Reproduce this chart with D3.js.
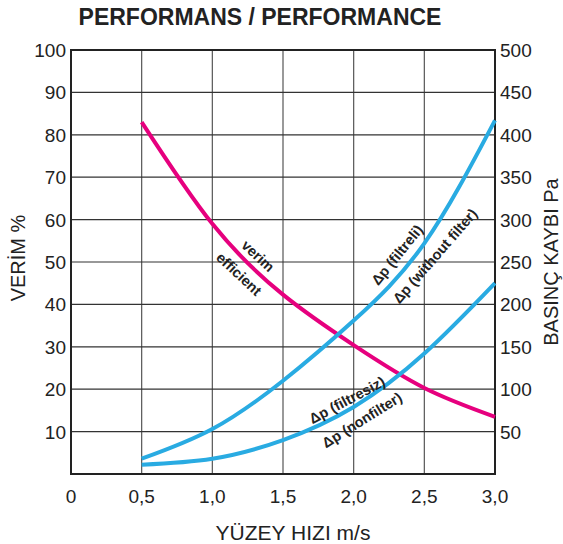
<!DOCTYPE html>
<html>
<head>
<meta charset="utf-8">
<script src="https://cdn.jsdelivr.net/npm/d3@7"></script>
<style>
  body { margin: 0; background: #fff; }
  svg { font-family: "Liberation Sans", Arial, sans-serif; }
</style>
</head>
<body>
<svg id="chart" width="563" height="544"></svg>
<script>
// data
const speeds = [0.5, 1.0, 1.5, 2.0, 2.5, 3.0];
const efficiency = [83, 59, 42.3, 30.4, 20.3, 13.5];          // %
const dpWithFilter = [18, 53, 110, 181, 272, 417];           // Pa
const dpNoFilter = [11, 18, 40, 79, 142, 225];               // Pa

const xTicks = [0, 0.5, 1.0, 1.5, 2.0, 2.5, 3.0];
const leftTicks = [10, 20, 30, 40, 50, 60, 70, 80, 90, 100];
const rightTicks = [50, 100, 150, 200, 250, 300, 350, 400, 450, 500];

const svg = d3.select('#chart');
const plotLeft = 71, plotRight = 495, plotTop = 50, plotBottom = 474;

let x = d3.scaleLinear().domain([0, 3]).range([plotLeft, plotRight]);
let yL = d3.scaleLinear().domain([0, 100]).range([plotBottom, plotTop]);
let yR = d3.scaleLinear().domain([0, 500]).range([plotBottom, plotTop]);

// grid
svg.append('g')
  .selectAll('line')
  .data(xTicks.slice(1, -1))
  .join('line')
  .attr('x1', d => x(d)).attr('x2', d => x(d))
  .attr('y1', plotTop).attr('y2', plotBottom)
  .style('stroke', '#555').style('stroke-width', 1.2);

svg.append('g')
  .selectAll('line')
  .data(leftTicks.slice(0, -1))
  .join('line')
  .attr('x1', plotLeft).attr('x2', plotRight)
  .attr('y1', d => yL(d)).attr('y2', d => yL(d))
  .style('stroke', '#333').style('stroke-width', 1.2);

// frame
svg.append('rect')
  .attr('x', plotLeft).attr('y', plotTop)
  .attr('width', plotRight - plotLeft).attr('height', plotBottom - plotTop)
  .style('fill', 'none').style('stroke', '#222').style('stroke-width', 2);

// tick labels
svg.append('g')
  .selectAll('text')
  .data(leftTicks)
  .join('text')
  .attr('x', plotLeft - 5).attr('y', d => yL(d) + 7)
  .attr('text-anchor', 'end')
  .style('font-size', '19px').style('fill', '#222')
  .text(d => d);

svg.append('g')
  .selectAll('text')
  .data(rightTicks)
  .join('text')
  .attr('x', plotRight + 5).attr('y', d => yR(d) + 7)
  .style('font-size', '19px').style('fill', '#222')
  .text(d => d);

svg.append('g')
  .selectAll('text')
  .data(xTicks)
  .join('text')
  .attr('x', d => x(d)).attr('y', 503)
  .attr('text-anchor', 'middle')
  .style('font-size', '19px').style('fill', '#222')
  .text(d => d === 0 ? '0' : d.toFixed(1).replace('.', ','));

// titles
svg.append('text')
  .attr('x', 260).attr('y', 25)
  .attr('text-anchor', 'middle')
  .style('font-size', '23px').style('font-weight', 'bold').style('fill', '#222')
  .text('PERFORMANS / PERFORMANCE');

svg.append('text')
  .attr('x', 293).attr('y', 540)
  .attr('text-anchor', 'middle')
  .style('font-size', '21px').style('fill', '#222')
  .text('YÜZEY HIZI m/s');

svg.append('text')
  .attr('transform', 'translate(25, 258) rotate(-90)')
  .attr('text-anchor', 'middle')
  .style('font-size', '20px').style('fill', '#222')
  .text('VERİM %');

svg.append('text')
  .attr('transform', 'translate(558, 262) rotate(-90)')
  .attr('text-anchor', 'middle')
  .style('font-size', '20px').style('fill', '#222')
  .text('BASINÇ KAYBI Pa');

// curves
function drawCurve(values, yScale, color) {
  let line = d3.line()
    .x((d, i) => x(speeds[i]))
    .y(d => yScale(d))
    .curve(d3.curveNatural);
  svg.append('path')
    .datum(values)
    .attr('d', line)
    .style('fill', 'none')
    .style('stroke', color)
    .style('stroke-width', 4);
}
drawCurve(efficiency, yL, '#e6007e');
drawCurve(dpWithFilter, yR, '#29abe2');
drawCurve(dpNoFilter, yR, '#29abe2');

// curve labels
const labels = [
  { text: 'verim', x: 258, y: 256, a: 43 },
  { text: 'efficient', x: 239, y: 274, a: 43 },
  { text: '\u0394p (filtreli)', x: 397, y: 255, a: -51 },
  { text: '\u0394p (without filter)', x: 435, y: 256, a: -49 },
  { text: '\u0394p (filtresiz)', x: 347, y: 400, a: -28 },
  { text: '\u0394p (nonfilter)', x: 362, y: 420, a: -32 }
];
svg.append('g')
  .selectAll('text')
  .data(labels)
  .join('text')
  .attr('transform', d => `translate(${d.x}, ${d.y}) rotate(${d.a})`)
  .attr('text-anchor', 'middle')
  .attr('dy', '0.35em')
  .style('font-size', '14.5px').style('font-weight', 'bold').style('fill', '#222')
  .text(d => d.text);
</script>
</body>
</html>
